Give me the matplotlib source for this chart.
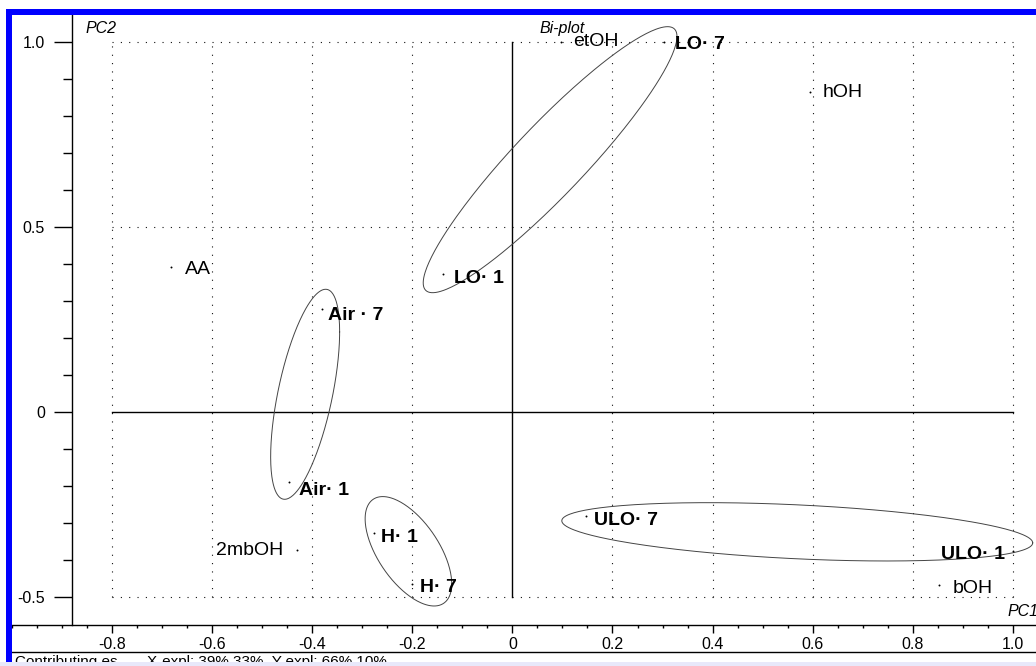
import numpy as np
import matplotlib
matplotlib.use("Agg")
import matplotlib.pyplot as plt
from matplotlib.lines import Line2D
from matplotlib.patches import Rectangle
from matplotlib.ticker import MultipleLocator, FixedLocator, FixedFormatter

plt.rcParams['font.family'] = ['Liberation Sans', 'DejaVu Sans']
plt.rcParams['lines.scale_dashes'] = False

# ---------------- data ----------------
names = ['AA', 'LO· 1', 'Air · 7', 'etOH', 'LO· 7', 'hOH', 'Air· 1',
         '2mbOH', 'H· 1', 'H· 7', 'ULO· 7', 'ULO· 1', 'bOH']
pc1 = [-0.682, -0.138, -0.380, 0.097, 0.302, 0.595, -0.447,
       -0.431, -0.276, -0.201, 0.147, 1.000, 0.853]
pc2 = [0.390, 0.372, 0.277, 0.998, 0.998, 0.863, -0.190,
       -0.373, -0.328, -0.466, -0.282, -0.376, -0.469]
is_sample = [False, True, True, False, True, False, True,
             False, True, True, True, True, False]

# group ellipses: centre and covariance-like shape (data units)
ell_centers = [(0.0753, 0.681), (-0.4142, 0.0470), (-0.2078, -0.3773), (0.5692, -0.3247)]
ell_shapes = [[[0.06429, 0.08440], [0.08440, 0.12921]],
              [[0.004750, 0.01162], [0.01162, 0.08053]],
              [[0.007485, -0.007587], [-0.007587, 0.02186]],
              [[0.2214, -0.01404], [-0.01404, 0.006209]]]

xticks = [-0.8, -0.6, -0.4, -0.2, 0.0, 0.2, 0.4, 0.6, 0.8, 1.0]
xtick_labels = ['-0.8', '-0.6', '-0.4', '-0.2', '0', '0.2', '0.4', '0.6', '0.8', '1.0']
yticks = [-0.5, 0.0, 0.5, 1.0]
ytick_labels = ['-0.5', '0', '0.5', '1.0']
footer_left = 'Contributing es'
footer_right = 'X-expl: 39%,33%  Y-expl: 66%,10%'

# ---------------- layout helpers ----------------
W, H = 1036, 666
def fx(px):
    return px / W
def fy(py):
    return 1 - py / H

# label offsets in pixels (dx, dy up) and alignment
lab_off = [(14, -7), (11, -9), (6, -11), (12, -4), (11, -7), (12, -5), (10, -13),
           (-13, -5), (7, -9), (8, -8), (8, -9), (-8, -8), (13, -8)]
lab_ha = ['left', 'left', 'left', 'left', 'left', 'left', 'left',
          'right', 'left', 'left', 'left', 'right', 'left']

fig = plt.figure(figsize=(W / 100, H / 100), dpi=100)
ax = fig.add_axes([fx(12), fy(625), fx(1036) - fx(12), fy(15) - fy(625)])
ax.set_xlim(-1.0, 1.0463)
ax.set_ylim(-0.5765, 1.072)

for s in ['top', 'right']:
    ax.spines[s].set_visible(False)
ax.spines['left'].set_position(('data', -0.88))
ax.spines['left'].set_linewidth(1.0)
ax.spines['bottom'].set_linewidth(1.0)

ax.xaxis.set_major_locator(FixedLocator(xticks))
ax.xaxis.set_major_formatter(FixedFormatter(xtick_labels))
ax.xaxis.set_minor_locator(MultipleLocator(0.05))
ax.yaxis.set_major_locator(FixedLocator(yticks))
ax.yaxis.set_major_formatter(FixedFormatter(ytick_labels))
ax.yaxis.set_minor_locator(MultipleLocator(0.1))
ax.tick_params(axis='x', which='major', length=5.4, width=1.0, pad=3, labelsize=11.5)
ax.tick_params(axis='x', which='minor', length=2.5, width=1.0)
ax.tick_params(axis='y', which='major', length=13, width=1.0, pad=6.5, labelsize=11.5)
ax.tick_params(axis='y', which='minor', length=6.5, width=1.0)

# dotted grid
gx0, gx1 = xticks[0], xticks[-1]
gy0, gy1 = yticks[0], yticks[-1]
dot = (0, (0.8, 5.2))
for xv in xticks:
    if xv != 0:
        ax.plot([xv, xv], [gy0, gy1], color='#111111', lw=0.8, linestyle=dot, zorder=1)
for yv in yticks:
    if yv != 0:
        ax.plot([gx0, gx1], [yv, yv], color='#111111', lw=0.8, linestyle=dot, zorder=1)
# solid zero lines
ax.plot([gx0, gx1], [0, 0], color='black', lw=1.0, zorder=2)
ax.plot([0, 0], [gy0, gy1], color='black', lw=1.0, zorder=2)

# ellipses
t = np.linspace(0, 2 * np.pi, 300)
for c, S in zip(ell_centers, ell_shapes):
    L = np.linalg.cholesky(np.array(S))
    pts = (L @ np.vstack([np.cos(t), np.sin(t)])).T + np.array(c)
    ax.plot(pts[:, 0], pts[:, 1], color='#444444', lw=0.7, zorder=3, clip_on=False)

# points and labels
ax.plot(pc1, pc2, 'o', ms=1.4, mew=0, color='black', zorder=4, clip_on=False)
for n, x, y, samp, off, ha in zip(names, pc1, pc2, is_sample, lab_off, lab_ha):
    ax.annotate(n, (x, y), xytext=off, textcoords='offset pixels',
                ha=ha, va='baseline', fontsize=14,
                fontweight='bold' if samp else 'normal', zorder=5,
                annotation_clip=False)

# axis names
fig.text(fx(86), fy(21), 'PC2', fontsize=11.5, style='italic', va='top', ha='left')
fig.text(fx(539), fy(21), 'Bi-plot', fontsize=11.5, style='italic', va='top', ha='left')
fig.text(fx(1008), fy(604), 'PC1', fontsize=11.5, style='italic', va='top', ha='left')

# frame decorations
fig.add_artist(Line2D([fx(12), 1], [fy(652), fy(652)], transform=fig.transFigure,
                      color='black', lw=1.0))
fig.text(fx(15), fy(655), footer_left, fontsize=11, va='top', ha='left')
fig.text(fx(147), fy(655), footer_right, fontsize=11, va='top', ha='left')
fig.add_artist(Rectangle((0, 0), 1, fy(662), transform=fig.transFigure,
                         facecolor='#e8e8fa', edgecolor='none', zorder=10))
fig.add_artist(Rectangle((fx(6), fy(662)), fx(6), fy(9) - fy(662),
                         transform=fig.transFigure, facecolor='#0000ff',
                         edgecolor='none', zorder=10))
fig.add_artist(Rectangle((fx(6), fy(15)), 1 - fx(6), fy(9) - fy(15),
                         transform=fig.transFigure, facecolor='#0000ff',
                         edgecolor='none', zorder=10))

fig.savefig('out.png', dpi=100)
